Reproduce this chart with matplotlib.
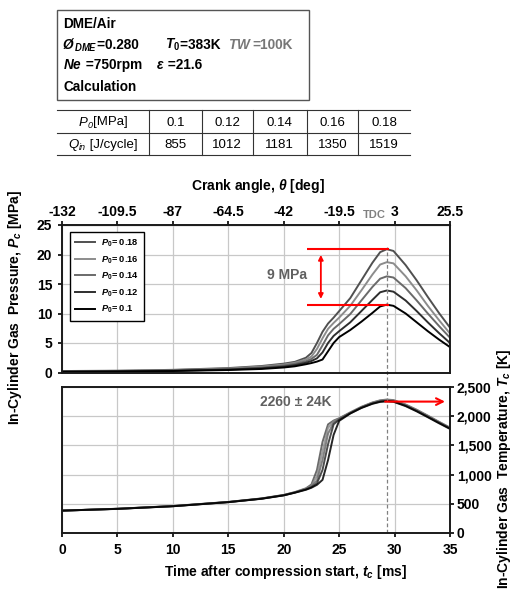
import matplotlib
matplotlib.use("Agg")
import matplotlib.pyplot as plt
from matplotlib.patches import Rectangle
from matplotlib.lines import Line2D
import matplotlib.ticker as mticker

plt.rcParams['font.family'] = ['Liberation Sans', 'DejaVu Sans']
plt.rcParams['font.weight'] = 'bold'
plt.rcParams['mathtext.fontset'] = 'custom'
plt.rcParams['mathtext.rm'] = 'Liberation Sans:bold'
plt.rcParams['mathtext.it'] = 'Liberation Sans:italic:bold'
plt.rcParams['mathtext.bf'] = 'Liberation Sans:bold'

# data
t_ms = [0, 5, 10, 15, 18, 20, 21, 22, 22.5, 23, 23.5, 24, 24.5, 25, 26, 27, 28, 28.7, 29.3, 29.9, 31, 32, 33, 34, 35]

p0_labels = ['0.18', '0.16', '0.14', '0.12', '0.1']
p0_table = ['0.1', '0.12', '0.14', '0.16', '0.18']
qin_table = ['855', '1012', '1181', '1350', '1519']

pc_018 = [0.25, 0.3, 0.45, 0.75, 1.1, 1.5, 1.8, 2.5, 3.3, 5.0, 6.9, 8.3, 9.3, 10.4, 12.6, 15.6, 18.6, 20.4, 20.9, 20.6, 18.2, 15.6, 12.8, 10.1, 7.6]
pc_016 = [0.22, 0.27, 0.4, 0.67, 1.0, 1.35, 1.65, 2.2, 2.7, 4.0, 5.8, 7.4, 8.4, 9.3, 11.3, 13.9, 16.6, 18.3, 18.7, 18.5, 16.3, 13.9, 11.3, 8.9, 6.6]
pc_014 = [0.19, 0.23, 0.35, 0.58, 0.85, 1.18, 1.45, 1.9, 2.3, 3.0, 4.6, 6.3, 7.4, 8.2, 9.9, 12.2, 14.5, 15.9, 16.3, 16.1, 14.3, 12.2, 10.0, 7.9, 5.9]
pc_012 = [0.15, 0.2, 0.3, 0.5, 0.72, 1.0, 1.25, 1.65, 1.95, 2.4, 3.4, 5.0, 6.2, 7.0, 8.5, 10.4, 12.3, 13.6, 13.9, 13.7, 12.2, 10.4, 8.5, 6.7, 5.0]
pc_010 = [0.12, 0.17, 0.25, 0.42, 0.6, 0.85, 1.05, 1.4, 1.6, 1.85, 2.2, 3.6, 5.0, 6.0, 7.2, 8.6, 10.1, 11.2, 11.5, 11.3, 10.0, 8.5, 7.0, 5.6, 4.3]

tc_018 = [383, 415, 462, 532, 592, 652, 700, 765, 830, 1080, 1560, 1860, 1925, 1965, 2065, 2160, 2235, 2272, 2285, 2276, 2200, 2110, 2010, 1905, 1805]
tc_016 = [383, 415, 461, 531, 590, 650, 697, 758, 805, 980, 1400, 1800, 1910, 1955, 2060, 2155, 2230, 2266, 2278, 2270, 2195, 2105, 2005, 1900, 1800]
tc_014 = [383, 414, 460, 530, 589, 648, 695, 752, 795, 900, 1250, 1700, 1890, 1950, 2055, 2150, 2225, 2259, 2270, 2262, 2188, 2098, 1998, 1895, 1795]
tc_012 = [383, 414, 459, 529, 588, 646, 692, 746, 785, 850, 1080, 1520, 1860, 1940, 2050, 2145, 2218, 2252, 2262, 2254, 2180, 2090, 1990, 1888, 1790]
tc_010 = [383, 413, 458, 528, 586, 644, 690, 740, 775, 825, 910, 1250, 1680, 1920, 2045, 2140, 2212, 2245, 2255, 2247, 2172, 2082, 1982, 1880, 1782]

crank_labels = ['-132', '-109.5', '-87', '-64.5', '-42', '-19.5', '3', '25.5']
t_ticks = [0, 5, 10, 15, 20, 25, 30, 35]
t_tdc = 29.33

pc_all = [pc_018, pc_016, pc_014, pc_012, pc_010]
tc_all = [tc_018, tc_016, tc_014, tc_012, tc_010]
colors = ['#505050', '#8c8c8c', '#6a6a6a', '#2e2e2e', '#000000']

W, H = 520, 605
fig = plt.figure(figsize=(5.2, 6.05), dpi=100)
renderer = fig.canvas.get_renderer()


def fx(px):
    return px / W


def fy(py):
    return 1 - py / H


def put_run(x_px, y_px, pieces, center=False):
    # draw text pieces one after another on a line (pixel coords from top-left)
    arts = []
    x = x_px
    for txt, kw in pieces:
        kw = dict(kw)
        dy = kw.pop('dy', 0)
        a = fig.text(fx(x), fy(y_px + dy), txt, va='baseline', ha='left', **kw)
        w = a.get_window_extent(renderer).width
        arts.append(a)
        x += w
    if center:
        shift = (x - x_px) / 2
        for a in arts:
            px0 = a.get_position()[0] * W - shift
            a.set_x(fx(px0))


ax1 = fig.add_axes([fx(62), fy(372.5), fx(450) - fx(62), fy(225) - fy(372.5)])
ax2 = fig.add_axes([fx(62), fy(533), fx(450) - fx(62), fy(387) - fy(533)])

for ax in (ax1, ax2):
    ax.set_xlim(0, 35)
    ax.set_xticks(t_ticks)
    ax.grid(True, color='#c8c8c8', lw=0.9)
    ax.set_axisbelow(True)
    for s in ax.spines.values():
        s.set_linewidth(1.4)
        s.set_color('#1a1a1a')

# pressure
for p, c, lab in zip(pc_all, colors, p0_labels):
    ax1.plot(t_ms, p, color=c, lw=1.4, label='$P_0$= ' + lab)
ax1.set_ylim(0, 25)
ax1.set_yticks([0, 5, 10, 15, 20, 25])
ax1.tick_params(axis='x', length=0, labelbottom=False)
ax1.tick_params(axis='y', labelsize=10, length=3, width=1.2, pad=4)
ax1.axvline(t_tdc, ymin=-0.098, ymax=0.85, color='#808080', lw=0.9, ls=(0, (3, 2)), clip_on=False)

leg = ax1.legend(loc='upper left', bbox_to_anchor=(0.02, 0.95), borderaxespad=0,
                 fontsize=6.7, handlelength=2.2, labelspacing=0.55, fancybox=False,
                 framealpha=1, edgecolor='black', borderpad=0.55, handletextpad=0.6)
leg.get_frame().set_linewidth(1.0)

# 9 MPa annotation
ax1.hlines([pc_018[18], pc_010[18]], 22.06, 29.5, color='red', lw=1.5)
ax1.annotate('', xy=(23.35, 12.0), xytext=(23.35, 20.4),
             arrowprops=dict(arrowstyle='<|-|>', color='red', lw=1.3, mutation_scale=7))
ax1.text(20.3, 16.5, '9 MPa', color='#606060', fontsize=10, fontweight='bold', ha='center', va='center')

# crank angle axis
sec = ax1.secondary_xaxis('top')
sec.set_xticks(t_ticks)
sec.set_xticklabels(crank_labels)
sec.tick_params(labelsize=10, length=3, width=1.2, pad=1)
ax1.text(28.2, 1.065, 'TDC', color='#808080', fontsize=8, fontweight='bold',
         ha='center', va='center', transform=ax1.get_xaxis_transform())
fig.text(fx(258), fy(186), r'Crank angle, $\theta$ [deg]', ha='center', va='center', fontsize=10)

# temperature
for tc, c in zip(tc_all, colors):
    ax2.plot(t_ms, tc, color=c, lw=1.4, alpha=0.85)
ax2.set_ylim(0, 2500)
ax2.set_yticks([0, 500, 1000, 1500, 2000, 2500])
ax2.yaxis.set_major_formatter(mticker.StrMethodFormatter('{x:,.0f}'))
ax2.yaxis.tick_right()
ax2.tick_params(axis='y', labelsize=10, length=3, width=1.2, pad=2)
ax2.tick_params(axis='x', labelsize=10, length=3, width=1.2, pad=4)
ax2.axvline(t_tdc, color='#808080', lw=0.9, ls=(0, (3, 2)))
ax2.annotate('', xy=(34.8, 2250), xytext=(28.9, 2250),
             arrowprops=dict(arrowstyle='->', color='red', lw=1.5, mutation_scale=12))
ax2.text(21.1, 2250, '2260 ± 24K', color='#606060', fontsize=10, fontweight='bold', ha='center', va='center')
fig.text(fx(285), fy(572), 'Time after compression start, $t_c$ [ms]', ha='center', va='center', fontsize=10)

# axis titles
fig.text(fx(15), fy(307), 'In-Cylinder Gas  Pressure, $P_c$ [MPa]', rotation=90,
         ha='center', va='center', fontsize=10)
fig.text(fx(504), fy(469), 'In-Cylinder Gas  Temperature, $T_c$ [K]', rotation=90,
         ha='center', va='center', fontsize=10)

# condition box
fig.patches.append(Rectangle((fx(57), fy(100)), fx(309) - fx(57), fy(10) - fy(100),
                             transform=fig.transFigure, fill=False, edgecolor='#555555', lw=1.0))
bx = dict(fontsize=9.8)
bi = dict(fontsize=9.8, fontstyle='italic')
gr = dict(fontsize=9.8, color='#777777')
put_run(63, 28, [('DME/Air', bx)])
put_run(63, 49, [('Ø', bi), ('$_{DME}$', bx), ('=0.280       ', bx), ('$T_0$', bx), ('=383K  ', bx),
                 ('$TW$', gr), ('=100K', gr)])
put_run(63, 69, [('$Ne$', bx), (' =750rpm    ', bx), ('ε', bi), (' =21.6', bx)])
put_run(63, 91, [('Calculation', bx)])

# table
col_x = [57, 149.3, 201.7, 252.7, 306.7, 358.3, 410]
row_y = [110, 133, 155]
for x in col_x[1:-1]:
    fig.lines.append(Line2D([fx(x), fx(x)], [fy(row_y[0]), fy(row_y[-1])],
                            transform=fig.transFigure, color='#333333', lw=0.8))
for y in row_y:
    fig.lines.append(Line2D([fx(col_x[0]), fx(col_x[-1])], [fy(y), fy(y)],
                            transform=fig.transFigure, color='#333333', lw=0.8))
tn = dict(fontsize=9.5, fontweight='normal')
ti = dict(fontsize=9.5, fontweight='normal', fontstyle='italic')
ts = dict(fontsize=6.5, fontweight='normal', fontstyle='italic', dy=2.5)
row_heads = [[('P', ti), ('0', ts), ('[MPa]', tn)], [('Q', ti), ('in', ts), (' [J/cycle]', tn)]]
row_vals = [p0_table, qin_table]
for r in range(2):
    yb = (row_y[r] + row_y[r + 1]) / 2 + 4
    put_run((col_x[0] + col_x[1]) / 2, yb, row_heads[r], center=True)
    for c, txt in enumerate(row_vals[r]):
        xc = (col_x[c + 1] + col_x[c + 2]) / 2
        put_run(xc, yb, [(txt, tn)], center=True)

fig.savefig('out.png', dpi=100)
